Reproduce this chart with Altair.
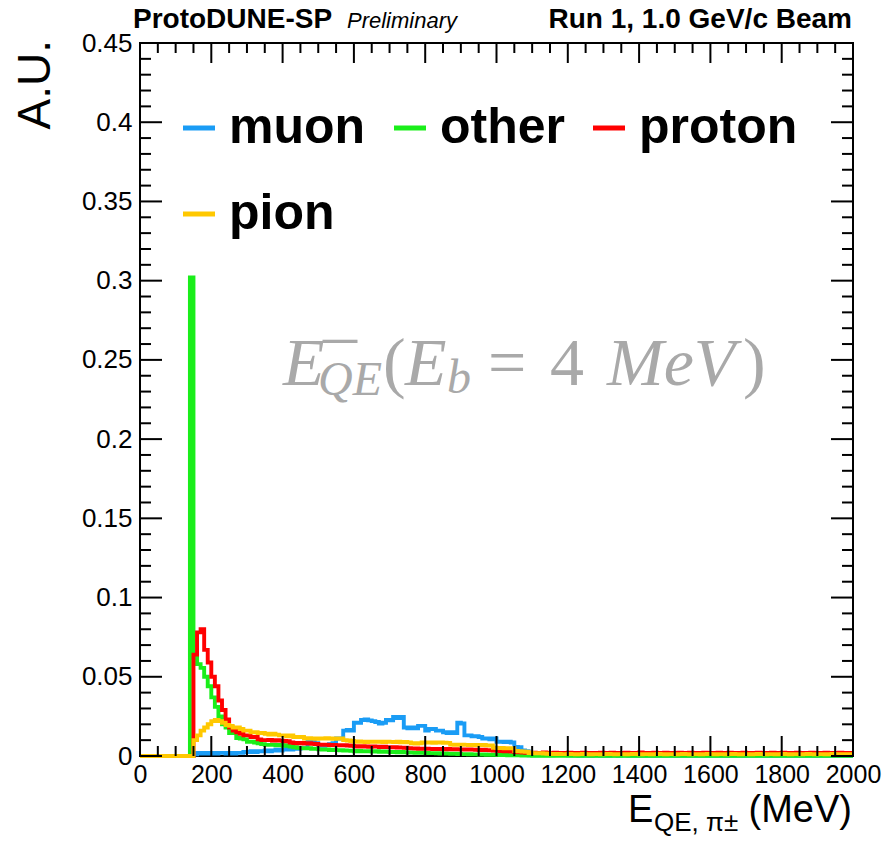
import altair as alt
import pandas as pd

# ---------------- data (10 MeV bins, 0-2000 MeV) ----------------
bin_lo = list(range(0, 2000, 10))

muon = [
    0, 0, 0, 0, 0, 0, 0, 0, 0, 0,
    0, 0, 0, 0, 0, 0.001, 0.002, 0.0015, 0.002, 0.0015,
    0.002, 0.0015, 0.002, 0.002, 0.0015, 0.002, 0.0015, 0.002, 0.002, 0.0025,
    0.0025, 0.003, 0.0025, 0.003, 0.003, 0.0035, 0.003, 0.0035, 0.004, 0.0035,
    0.004, 0.0045, 0.004, 0.005, 0.0045, 0.005, 0.005, 0.009, 0.010, 0.008,
    0.007, 0.0065, 0.007, 0.0075, 0.008, 0.011, 0.011, 0.016, 0.0165, 0.016,
    0.021, 0.021, 0.0227, 0.023, 0.0225, 0.022, 0.0215, 0.0205, 0.021, 0.0227,
    0.0225, 0.0246, 0.024, 0.0246, 0.018, 0.0175, 0.018, 0.0175, 0.019, 0.019,
    0.016, 0.017, 0.017, 0.016, 0.016, 0.015, 0.0145, 0.015, 0.0145, 0.021,
    0.0205, 0.013, 0.013, 0.0125, 0.0125, 0.012, 0.011, 0.011, 0.0105, 0.011,
    0.009, 0.009, 0.0088, 0.009, 0.0085, 0.0057, 0.0055, 0.0035, 0.003, 0.0005,
    0.0004, 0.0005, 0.0006, 0.0005, 0.0004, 0.0005, 0.002, 0.002, 0.0015, 0.002,
    0.0004, 0.0003, 0.0003, 0.0002, 0.0004, 0.0003, 0.0002, 0.0003, 0.0003, 0.0002,
    0.0003, 0.0002, 0.0003, 0.0004, 0.0002, 0.0003, 0.0003, 0.0002, 0.0003, 0.0002,
    0.0002, 0.0003, 0.0002, 0.0002, 0.0003, 0.0002, 0.0002, 0.0003, 0.0002, 0.0002,
    0.0002, 0.0002, 0.0003, 0.0002, 0.0002, 0.0002, 0.0003, 0.0002, 0.0002, 0.0002,
    0.0002, 0.0002, 0.0002, 0.0003, 0.0002, 0.0002, 0.0002, 0.0002, 0.0002, 0.0002,
    0.0002, 0.0002, 0.0002, 0.0002, 0.0002, 0.0003, 0.0002, 0.0002, 0.0002, 0.0002,
    0.0002, 0.0002, 0.0002, 0.0002, 0.0002, 0.0002, 0.0002, 0.0002, 0.0002, 0.0002,
    0.0002, 0.0002, 0.0002, 0.0002, 0.0002, 0.0002, 0.0002, 0.0002, 0.0002, 0.0002,
]

other = [
    0, 0, 0, 0, 0, 0, 0, 0, 0, 0,
    0, 0, 0, 0, 0.302, 0.062, 0.058, 0.0556, 0.050, 0.044,
    0.037, 0.031, 0.025, 0.020, 0.018, 0.0145, 0.0145, 0.0114, 0.011, 0.0105,
    0.009, 0.009, 0.0085, 0.008, 0.0075, 0.007, 0.007, 0.0072, 0.0068, 0.007,
    0.0065, 0.0068, 0.006, 0.0055, 0.0052, 0.005, 0.0048, 0.005, 0.0046, 0.0045,
    0.0042, 0.004, 0.0042, 0.0038, 0.004, 0.0037, 0.0036, 0.0035, 0.0034, 0.0033,
    0.003, 0.0032, 0.003, 0.0029, 0.003, 0.0028, 0.003, 0.0027, 0.0028, 0.0026,
    0.0025, 0.0026, 0.0024, 0.0025, 0.0023, 0.0022, 0.0021, 0.002, 0.0021, 0.002,
    0.0019, 0.0018, 0.0018, 0.0017, 0.0016, 0.0016, 0.0015, 0.0014, 0.0014, 0.0013,
    0.0012, 0.0012, 0.0011, 0.001, 0.001, 0.0009, 0.0009, 0.0008, 0.0008, 0.0007,
    0.0007, 0.0006, 0.0006, 0.0005, 0.0005, 0.0004, 0.0004, 0.0003, 0.0003, 0.0003,
    0.0002, 0.0002, 0.0002, 0.0002, 0.0002, 0.0002, 0.0002, 0.0002, 0.0002, 0.0002,
    0.0002, 0.0002, 0.0002, 0.0002, 0.0002, 0.0002, 0.0002, 0.0002, 0.0002, 0.0002,
    0.0001, 0.0002, 0.0001, 0.0002, 0.0001, 0.0001, 0.0002, 0.0001, 0.0001, 0.0001,
    0.0001, 0.0001, 0.0001, 0.0001, 0.0001, 0.0001, 0.0001, 0.0001, 0.0001, 0.0001,
    0.0001, 0.0001, 0.0001, 0.0001, 0.0001, 0.0001, 0.0001, 0.0001, 0.0001, 0.0001,
    0.0001, 0.0001, 0.0001, 0.0001, 0.0001, 0.0001, 0.0001, 0.0001, 0.0001, 0.0001,
    0.0001, 0.0001, 0.0001, 0.0001, 0.0001, 0.0001, 0.0001, 0.0001, 0.0001, 0.0001,
    0.0001, 0.0001, 0.0001, 0.0001, 0.0001, 0.0001, 0.0001, 0.0001, 0.0001, 0.0001,
    0.0001, 0.0001, 0.0001, 0.0001, 0.0001, 0.0001, 0.0001, 0.0001, 0.0001, 0.0001,
]

proton = [
    0, 0, 0, 0, 0, 0, 0, 0, 0, 0,
    0, 0, 0, 0, 0, 0.064, 0.078, 0.080, 0.067, 0.059,
    0.050, 0.044, 0.035, 0.029, 0.023, 0.018, 0.016, 0.015, 0.014, 0.013,
    0.013, 0.012, 0.012, 0.0105, 0.010, 0.010, 0.0102, 0.0098, 0.010, 0.0097,
    0.0095, 0.0093, 0.0085, 0.0082, 0.008, 0.0082, 0.0078, 0.008, 0.0077, 0.0076,
    0.0072, 0.007, 0.0072, 0.0069, 0.007, 0.0068, 0.0067, 0.0068, 0.0066, 0.0065,
    0.0062, 0.006, 0.0062, 0.006, 0.0058, 0.006, 0.0059, 0.0057, 0.0058, 0.0056,
    0.0055, 0.0056, 0.0054, 0.0053, 0.0052, 0.005, 0.0048, 0.0047, 0.0046, 0.0045,
    0.0046, 0.0045, 0.0044, 0.0045, 0.0044, 0.0043, 0.0044, 0.0042, 0.0043, 0.0042,
    0.0041, 0.004, 0.0041, 0.004, 0.0039, 0.0038, 0.0039, 0.0037, 0.0036, 0.0035,
    0.0033, 0.0032, 0.003, 0.003, 0.0028, 0.0025, 0.0023, 0.0022, 0.002, 0.002,
    0.0021, 0.0019, 0.002, 0.0022, 0.002, 0.0019, 0.0021, 0.002, 0.0018, 0.002,
    0.0021, 0.002, 0.0019, 0.002, 0.0021, 0.0019, 0.002, 0.0018, 0.002, 0.0021,
    0.002, 0.0019, 0.0021, 0.002, 0.0019, 0.002, 0.0021, 0.002, 0.0019, 0.002,
    0.0022, 0.002, 0.0019, 0.002, 0.0021, 0.002, 0.0019, 0.0021, 0.002, 0.0019,
    0.002, 0.0021, 0.0019, 0.002, 0.0021, 0.002, 0.0019, 0.002, 0.0021, 0.002,
    0.0019, 0.002, 0.0021, 0.0019, 0.002, 0.0021, 0.002, 0.0019, 0.002, 0.0021,
    0.002, 0.0019, 0.002, 0.0021, 0.002, 0.0019, 0.002, 0.0021, 0.0019, 0.002,
    0.0021, 0.002, 0.0019, 0.002, 0.0021, 0.002, 0.0019, 0.002, 0.0021, 0.002,
    0.0019, 0.002, 0.0021, 0.002, 0.0019, 0.002, 0.0021, 0.002, 0.0019, 0.002,
]

pion = [
    0, 0, 0, 0, 0, 0, 0, 0, 0, 0,
    0, 0, 0, 0, 0, 0.010, 0.013, 0.016, 0.018, 0.020,
    0.022, 0.0227, 0.022, 0.021, 0.0196, 0.019, 0.018, 0.018, 0.017, 0.016,
    0.016, 0.015, 0.015, 0.0145, 0.0145, 0.014, 0.0135, 0.014, 0.0135, 0.013,
    0.013, 0.0125, 0.013, 0.012, 0.012, 0.012, 0.011, 0.0112, 0.011, 0.0108,
    0.011, 0.011, 0.0112, 0.011, 0.0108, 0.011, 0.011, 0.010, 0.0098, 0.0095,
    0.009, 0.0092, 0.009, 0.0088, 0.009, 0.0091, 0.0089, 0.009, 0.0088, 0.009,
    0.0089, 0.0088, 0.009, 0.0087, 0.0088, 0.0086, 0.008, 0.0078, 0.008, 0.0085,
    0.0086, 0.0085, 0.0084, 0.0086, 0.0085, 0.0084, 0.0083, 0.0072, 0.0071, 0.007,
    0.0072, 0.007, 0.0069, 0.007, 0.0068, 0.007, 0.0069, 0.0067, 0.0066, 0.0052,
    0.005, 0.0051, 0.0049, 0.005, 0.0048, 0.0032, 0.003, 0.0028, 0.0027, 0.0019,
    0.0018, 0.0017, 0.0018, 0.0016, 0.0014, 0.0013, 0.0012, 0.0013, 0.0012, 0.0012,
    0.0013, 0.0012, 0.0011, 0.0012, 0.0013, 0.0012, 0.0011, 0.0012, 0.0012, 0.0011,
    0.0012, 0.0013, 0.0012, 0.0011, 0.0012, 0.0012, 0.0011, 0.0012, 0.0013, 0.0012,
    0.0011, 0.0012, 0.0012, 0.0011, 0.0012, 0.0013, 0.0012, 0.0011, 0.0012, 0.0012,
    0.0011, 0.0012, 0.0013, 0.0012, 0.0011, 0.0012, 0.0012, 0.0011, 0.0012, 0.0013,
    0.0012, 0.0011, 0.0012, 0.0012, 0.0011, 0.0012, 0.0013, 0.0012, 0.0011, 0.0012,
    0.0012, 0.0011, 0.0012, 0.0013, 0.0012, 0.0011, 0.0012, 0.0012, 0.0011, 0.0012,
    0.0013, 0.0012, 0.0011, 0.0012, 0.0012, 0.0011, 0.0012, 0.0013, 0.0012, 0.0011,
    0.0012, 0.0012, 0.0011, 0.0012, 0.0013, 0.0012, 0.0011, 0.0012, 0.0012, 0.0011,
]

series_names = ["muon", "other", "proton", "pion"]
series_colors = ["#1a9cf5", "#1aee1a", "#ff0000", "#ffc800"]
series_values = {"muon": muon, "other": other, "proton": proton, "pion": pion}

x_major = [0, 200, 400, 600, 800, 1000, 1200, 1400, 1600, 1800, 2000]
x_minor = [v for v in range(50, 2000, 50) if v % 200 != 0]
y_major = [0, 0.05, 0.1, 0.15, 0.2, 0.25, 0.3, 0.35, 0.4, 0.45]
y_minor = [round(i * 0.01, 2) for i in range(1, 45) if i % 5 != 0]

rows = []
for name in series_names:
    vals = series_values[name]
    for lo, v in zip(bin_lo, vals):
        rows.append({"series": name, "E": lo, "AU": v})
    rows.append({"series": name, "E": 2000, "AU": vals[-1]})
df = pd.DataFrame(rows)

# ---------------- chart ----------------
W, H = 713, 713
FONT = "Liberation Sans"
xs = alt.Scale(domain=[0, 2000], nice=False, zero=False)
ys = alt.Scale(domain=[0, 0.45], nice=False)
x_axis = alt.Axis(values=x_major, title=None, labelFontSize=25, labelPadding=6,
                  labelOverlap=False, labelFlush=False, format="d")
y_axis = alt.Axis(values=y_major, title=None, labelFontSize=26, labelPadding=8,
                  labelOverlap=False, format="~g")

color = alt.Color(
    "series:N",
    scale=alt.Scale(domain=series_names, range=series_colors),
    legend=alt.Legend(
        orient="none", legendX=34, legendY=60, columns=3, direction="horizontal",
        title=None, symbolType="stroke", symbolSize=1024, symbolStrokeWidth=5,
        labelFont=FONT, labelFontSize=50, labelFontWeight="bold", labelColor="black",
        labelOffset=5, columnPadding=18, rowPadding=36, padding=0,
        labelLimit=400,
    ),
)

layers = []
for name in series_names:
    layers.append(
        alt.Chart(df)
        .transform_filter(alt.datum.series == name)
        .mark_line(interpolate="step-after", strokeWidth=3.9, strokeJoin="miter")
        .encode(
            x=alt.X("E:Q", scale=xs, axis=x_axis),
            y=alt.Y("AU:Q", scale=ys, axis=y_axis),
            color=color,
        )
    )

# inward ticks on all four sides
def xticks(vals, y0, y1):
    return alt.Chart(pd.DataFrame({"E": vals})).mark_rule(color="black", strokeWidth=2).encode(
        x=alt.X("E:Q", scale=xs, axis=x_axis), y=alt.value(y0), y2=alt.value(y1))

def yticks(vals, x0, x1):
    return alt.Chart(pd.DataFrame({"AU": vals})).mark_rule(color="black", strokeWidth=2).encode(
        y=alt.Y("AU:Q", scale=ys, axis=y_axis), x=alt.value(x0), x2=alt.value(x1))

layers += [
    xticks(x_major, H, H - 20), xticks(x_minor, H, H - 10),
    xticks(x_major, 0, 20), xticks(x_minor, 0, 10),
    yticks(y_major, 0, 22), yticks(y_minor, 0, 11),
    yticks(y_major, W, W - 22), yticks(y_minor, W, W - 11),
]

def txt(text, x, y, size, font=FONT, weight="normal", style="normal",
        align="left", col="black", angle=0):
    return alt.Chart(pd.DataFrame({"t": [text]})).mark_text(
        align=align, baseline="alphabetic", font=font, fontSize=size,
        fontWeight=weight, fontStyle=style, color=col, angle=angle,
    ).encode(text="t:N", x=alt.value(x), y=alt.value(y))

GRAY = "#a9a9a9"
SERIF = "Liberation Serif"
layers += [
    # header
    txt("ProtoDUNE-SP", -7, -15, 28, weight="bold"),
    txt("Preliminary", 207, -15, 22, style="italic"),
    txt("Run 1, 1.0 GeV/c Beam", 712, -15, 28, weight="bold", align="right"),
    # axis titles
    txt("A.U.", -90, -3, 46, align="right", angle=270),
    txt("E", 488, 779, 38),
    txt("QE, π±", 514, 788, 26),
    txt("(MeV)", 712, 779, 38, align="right"),
    # formula annotation
    txt("E", 143, 342, 68, font=SERIF, style="italic", col=GRAY),
    txt("\u2013", 200, 314, 68, font=SERIF, col=GRAY, align="center"),
    txt("QE", 178, 352, 48, font=SERIF, style="italic", col=GRAY),
    txt("(", 243, 342, 68, font=SERIF, col=GRAY),
    txt("E", 265, 342, 68, font=SERIF, style="italic", col=GRAY),
    txt("b", 307, 350, 48, font=SERIF, style="italic", col=GRAY),
    txt("=", 348, 342, 68, font=SERIF, col=GRAY),
    txt("4", 410, 342, 68, font=SERIF, col=GRAY),
    txt("MeV", 467, 342, 68, font=SERIF, style="italic", col=GRAY),
    txt(")", 603, 342, 68, font=SERIF, col=GRAY),
]

chart = (
    alt.layer(*layers)
    .properties(
        width=W, height=H,
        padding={"left": 140, "top": 43, "right": 32, "bottom": 85},
        autosize=alt.AutoSizeParams(type="none"),
        background="white",
    )
    .configure_view(stroke="black", strokeWidth=2)
    .configure_axis(domain=False, ticks=False, grid=False, labelFont=FONT,
                    labelColor="black")
)

chart.save("out.html", embed_options={"renderer": "svg", "actions": False})
